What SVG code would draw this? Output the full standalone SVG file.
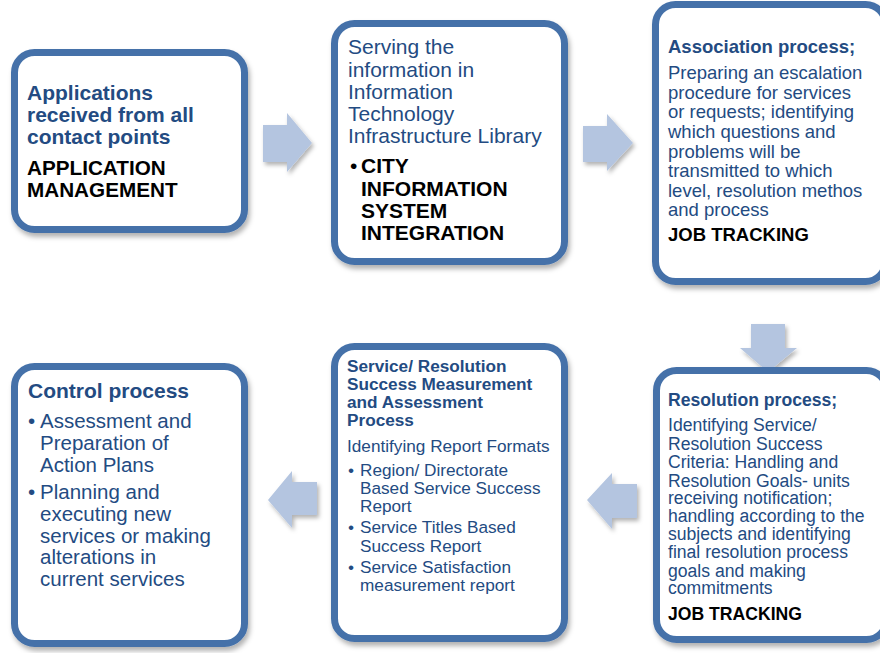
<svg xmlns="http://www.w3.org/2000/svg" width="880" height="653" viewBox="0 0 880 653">
<style>
text{font-family:"Liberation Sans",Arial,sans-serif}
.box{fill:#fff;stroke:#4571a9;stroke-width:7}
.h{font-weight:bold;fill:#234b82}
.b{fill:#234b82}
.k{font-weight:bold;fill:#000}
.arr{fill:#b4c5e0}
</style>
<defs>
<filter id="sh" x="-20%" y="-20%" width="140%" height="140%">
<feDropShadow dx="2" dy="4" stdDeviation="2.5" flood-color="#000" flood-opacity="0.3"/>
</filter>
<filter id="ash" x="-30%" y="-30%" width="160%" height="160%">
<feDropShadow dx="2" dy="3" stdDeviation="2" flood-color="#000" flood-opacity="0.3"/>
</filter>
</defs>
<rect width="880" height="653" fill="#fff"/>
<g id="connectors" filter="url(#ash)">
<polygon class="arr" points="263,125 287,125 287,113 312,143 287,172 287,162 263,162"/>
<polygon class="arr" points="583,126 607,126 607,114 633,143 607,171 607,162 583,162"/>
<polygon class="arr" points="751,324 785,324 785,348 797,348 768,372 740,348 751,348"/>
<polygon class="arr" points="637,484 612,484 612,473 587,500 612,529 612,518 637,518"/>
<polygon class="arr" points="317,482 292,482 292,471 268,500 292,528 292,515 317,515"/>
</g>
<g id="node1">
<rect class="box" x="14.5" y="52.5" width="230" height="177" rx="20" filter="url(#sh)"/>
<g font-size="21">
<text class="h" x="27" y="100">Applications</text>
<text class="h" x="27" y="122">received from all</text>
<text class="h" x="27" y="144">contact points</text>
<text class="k" x="27" y="175" font-size="20.7">APPLICATION</text>
<text class="k" x="27" y="197" font-size="20.7">MANAGEMENT</text>
</g>
</g>
<g id="node2">
<rect class="box" x="334.5" y="23.5" width="230" height="238" rx="20" filter="url(#sh)"/>
<g font-size="21">
<text class="b" x="348" y="54">Serving the</text>
<text class="b" x="348" y="77">information in</text>
<text class="b" x="348" y="99">Information</text>
<text class="b" x="348" y="121">Technology</text>
<text class="b" x="348" y="143">Infrastructure Library</text>
<text x="350" y="173" fill="#000">•</text>
<text class="k" x="361" y="173">CITY</text>
<text class="k" x="361" y="196">INFORMATION</text>
<text class="k" x="361" y="218">SYSTEM</text>
<text class="k" x="361" y="240">INTEGRATION</text>
</g>
</g>
<g id="node3">
<rect class="box" x="655.5" y="4.5" width="230" height="277" rx="20" filter="url(#sh)"/>
<g font-size="18.5">
<text class="h" x="668" y="53">Association process;</text>
<text class="b" x="668" y="79">Preparing an escalation</text>
<text class="b" x="668" y="99">procedure for services</text>
<text class="b" x="668" y="118">or requests; identifying</text>
<text class="b" x="668" y="138">which questions and</text>
<text class="b" x="668" y="158">problems will be</text>
<text class="b" x="668" y="177">transmitted to which</text>
<text class="b" x="668" y="197">level, resolution methos</text>
<text class="b" x="668" y="216">and process</text>
<text class="k" x="668" y="241">JOB TRACKING</text>
</g>
</g>
<g id="node4">
<rect class="box" x="656.5" y="370.5" width="230" height="269" rx="20" filter="url(#sh)"/>
<g font-size="17.6">
<text class="h" x="668" y="406">Resolution process;</text>
<text class="b" x="668" y="431">Identifying Service/</text>
<text class="b" x="668" y="450">Resolution Success</text>
<text class="b" x="668" y="468">Criteria: Handling and</text>
<text class="b" x="668" y="487">Resolution Goals- units</text>
<text class="b" x="668" y="504">receiving notification;</text>
<text class="b" x="668" y="522">handling according to the</text>
<text class="b" x="668" y="540">subjects and identifying</text>
<text class="b" x="668" y="558">final resolution process</text>
<text class="b" x="668" y="577">goals and making</text>
<text class="b" x="668" y="594">commitments</text>
<text class="k" x="668" y="620">JOB TRACKING</text>
</g>
</g>
<g id="node5">
<rect class="box" x="334.5" y="346.5" width="230" height="292" rx="20" filter="url(#sh)"/>
<g font-size="17.2">
<text class="h" x="347" y="372">Service/ Resolution</text>
<text class="h" x="347" y="390">Success Measurement</text>
<text class="h" x="347" y="408">and Assessment</text>
<text class="h" x="347" y="426">Process</text>
<text class="b" x="347" y="452">Identifying Report Formats</text>
<text class="b" x="348" y="476">•</text>
<text class="b" x="360" y="476">Region/ Directorate</text>
<text class="b" x="360" y="494">Based Service Success</text>
<text class="b" x="360" y="512">Report</text>
<text class="b" x="348" y="533">•</text>
<text class="b" x="360" y="533">Service Titles Based</text>
<text class="b" x="360" y="552">Success Report</text>
<text class="b" x="348" y="573">•</text>
<text class="b" x="360" y="573">Service Satisfaction</text>
<text class="b" x="360" y="591">measurement report</text>
</g>
</g>
<g id="node6">
<rect class="box" x="14.5" y="366.5" width="230" height="277" rx="20" filter="url(#sh)"/>
<text class="h" x="28" y="398" font-size="21">Control process</text>
<g font-size="20.5">
<text class="b" x="28" y="428">•</text>
<text class="b" x="40" y="428">Assessment and</text>
<text class="b" x="40" y="450">Preparation of</text>
<text class="b" x="40" y="472">Action Plans</text>
<text class="b" x="28" y="499">•</text>
<text class="b" x="40" y="499">Planning and</text>
<text class="b" x="40" y="521">executing new</text>
<text class="b" x="40" y="543">services or making</text>
<text class="b" x="40" y="564">alterations in</text>
<text class="b" x="40" y="586">current services</text>
</g>
</g>
</svg>
